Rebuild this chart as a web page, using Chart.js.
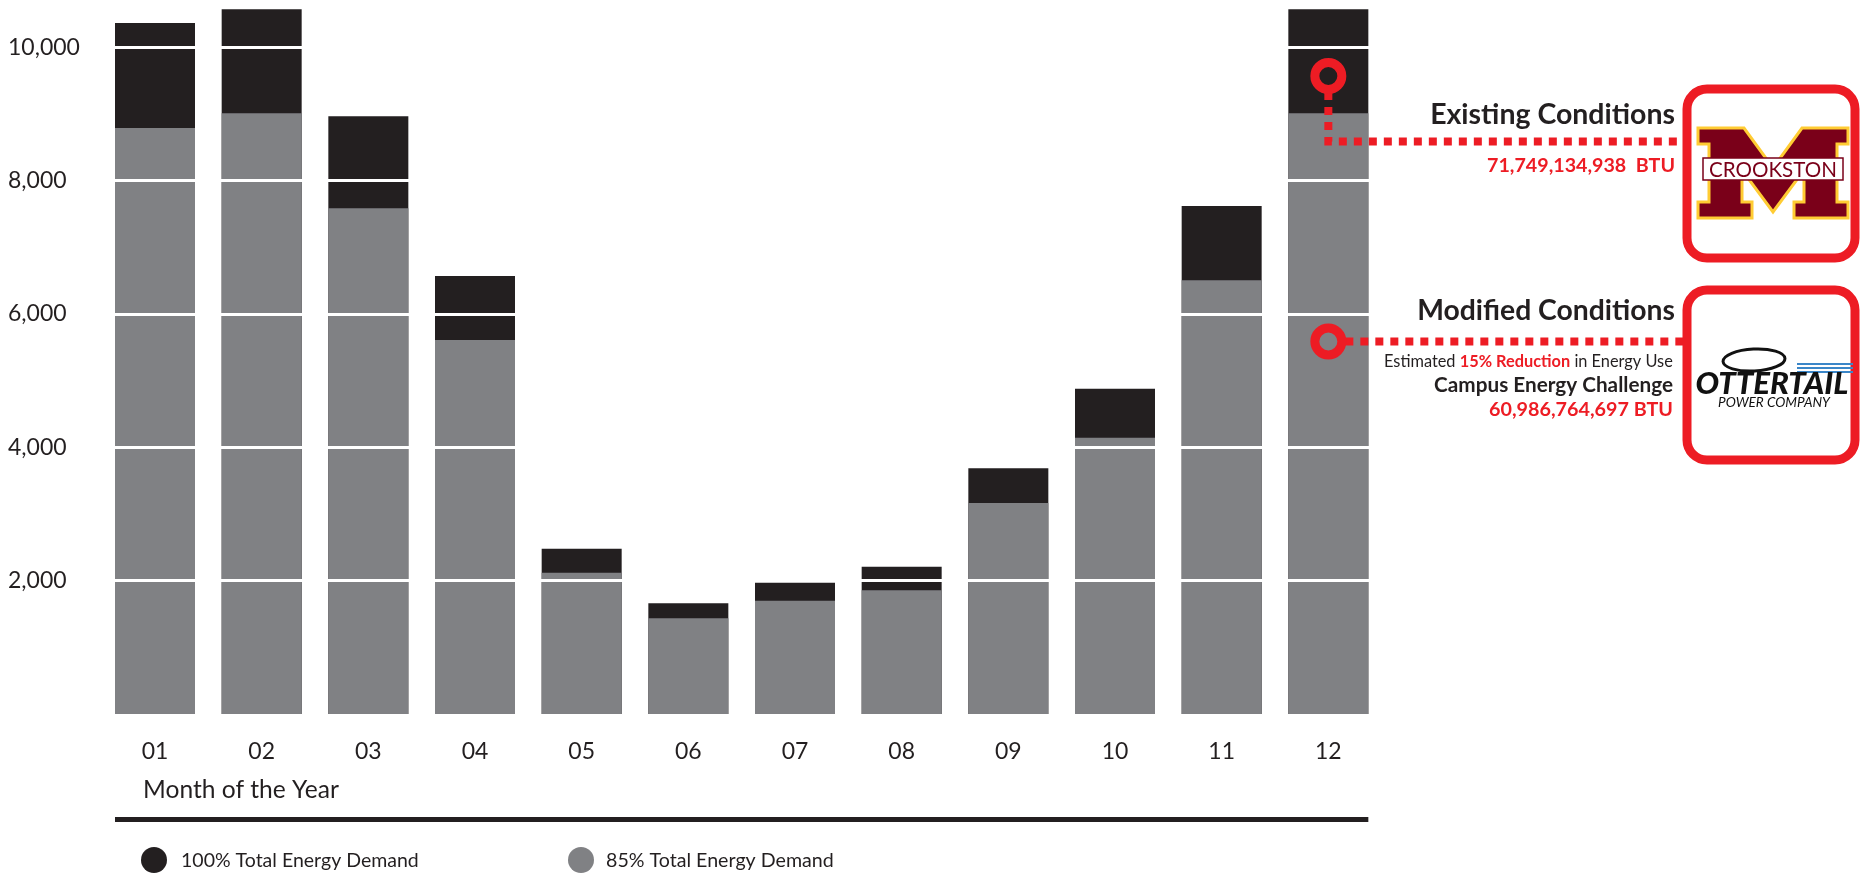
<!DOCTYPE html>
<html>
<head>
<meta charset="utf-8">
<script src="https://cdn.jsdelivr.net/npm/chart.js@4.4.0/dist/chart.umd.min.js"></script>
<style>
  html, body { margin: 0; padding: 0; background: #fff; }
  canvas { display: block; }
</style>
</head>
<body>
<canvas id="energy-chart" width="1864" height="879"></canvas>
<script>
// values
const months = ['01', '02', '03', '04', '05', '06', '07', '08', '09', '10', '11', '12'];
const totalDemand = [10365, 10570, 8965, 6570, 2480, 1660, 1970, 2210, 3685, 4880, 7620, 10570];
const reducedDemand = [8790, 9010, 7585, 5610, 2120, 1435, 1700, 1855, 3165, 4145, 6505, 9010];
const yTicks = [2000, 4000, 6000, 8000, 10000];

const totalLabel = '100% Total Energy Demand';
const reducedLabel = '85% Total Energy Demand';
const existingTotal = '71,749,134,938  BTU';
const modifiedTotal = '60,986,764,697 BTU';

const DARK = '#231f20';
const GRAY = '#808184';
const RED = '#ed1c24';
const FONT = 'Lato, "Open Sans", sans-serif';

// font size that makes text fill a given width
function fitSize(ctx, text, weight, style, width) {
    ctx.font = `${style} ${weight} 100px ${FONT}`;
    return 100 * width / ctx.measureText(text).width;
}

function fitText(ctx, text, x, y, width, align, weight, color, style) {
    style = style || 'normal';
    const size = fitSize(ctx, text, weight, style, width);
    ctx.font = `${style} ${weight} ${size}px ${FONT}`;
    ctx.fillStyle = color;
    ctx.textAlign = align;
    ctx.textBaseline = 'middle';
    ctx.fillText(text, x, y);
}

function dotted(ctx, points) {
    ctx.save();
    ctx.strokeStyle = RED;
    ctx.lineWidth = 8;
    ctx.setLineDash([8, 7]);
    ctx.lineCap = 'butt';
    ctx.beginPath();
    ctx.moveTo(points[0][0], points[0][1]);
    points.slice(1).forEach(p => ctx.lineTo(p[0], p[1]));
    ctx.stroke();
    ctx.restore();
}

function ring(ctx, x, y) {
    ctx.save();
    ctx.strokeStyle = RED;
    ctx.lineWidth = 9;
    ctx.beginPath();
    ctx.arc(x, y, 13.5, 0, Math.PI * 2);
    ctx.stroke();
    ctx.restore();
}

function redBox(ctx, x, y, w, h) {
    ctx.save();
    ctx.strokeStyle = RED;
    ctx.lineWidth = 9;
    ctx.beginPath();
    ctx.roundRect(x, y, w, h, 20);
    ctx.stroke();
    ctx.restore();
}

function crookstonLogo(ctx, x, y) {
    // block M, 150 x 90
    const pts = [[0,0],[46,0],[75,40],[104,0],[150,0],[150,16],[139,16],[139,74],[150,74],[150,90],
        [96,90],[96,74],[106,74],[106,42],[75,84],[44,42],[44,74],[54,74],[54,90],[0,90],[0,74],
        [11,74],[11,16],[0,16]];
    ctx.save();
    ctx.translate(x, y);
    ctx.beginPath();
    pts.forEach((p, i) => i ? ctx.lineTo(p[0], p[1]) : ctx.moveTo(p[0], p[1]));
    ctx.closePath();
    ctx.fillStyle = '#7a0019';
    ctx.fill();
    ctx.strokeStyle = '#ffcc33';
    ctx.lineWidth = 3;
    ctx.stroke();
    ctx.fillStyle = '#fff';
    ctx.fillRect(5, 30, 140, 22);
    ctx.strokeStyle = '#7a0019';
    ctx.lineWidth = 1.5;
    ctx.strokeRect(5, 30, 140, 22);
    ctx.restore();
    fitText(ctx, 'CROOKSTON', x + 75, y + 42, 128, 'center', 400, '#7a0019');
}

function otterTailLogo(ctx, x, y) {
    ctx.save();
    ctx.strokeStyle = '#111';
    ctx.lineWidth = 3;
    ctx.beginPath();
    ctx.ellipse(x - 18, y - 24, 31, 11, -0.05, 0, Math.PI * 2);
    ctx.stroke();
    ctx.strokeStyle = '#3a86c8';
    ctx.lineWidth = 2;
    [-20, -16, -12].forEach(dy => {
        ctx.beginPath();
        ctx.moveTo(x + 25, y + dy);
        ctx.lineTo(x + 81, y + dy);
        ctx.stroke();
    });
    ctx.restore();
    fitText(ctx, 'OTTERTAIL', x, y, 153, 'center', 900, '#111', 'italic');
    fitText(ctx, 'POWER COMPANY', x + 2, y + 19, 112, 'center', 400, '#111', 'italic');
}

const extrasPlugin = {
    id: 'extras',
    afterDraw(chart) {
        const ctx = chart.ctx;
        const bars = chart.getDatasetMeta(0).data;
        const first = bars[0], last = bars[bars.length - 1];

        // axis title and bottom rule
        fitText(ctx, 'Month of the Year', 143, 790, 196, 'left', 400, DARK);
        ctx.save();
        ctx.fillStyle = DARK;
        ctx.fillRect(first.x - first.width / 2, 817, (last.x + last.width / 2) - (first.x - first.width / 2), 5);
        ctx.restore();

        // legend
        const legend = [[totalLabel, DARK, 154, 181, 238], [reducedLabel, GRAY, 581, 606, 228]];
        legend.forEach(([label, color, cx, tx, w]) => {
            ctx.save();
            ctx.fillStyle = color;
            ctx.beginPath();
            ctx.arc(cx, 860, 13, 0, Math.PI * 2);
            ctx.fill();
            ctx.restore();
            fitText(ctx, label, tx, 861, w, 'left', 400, DARK);
        });

        // annotations on the december bar
        const mx = last.x;
        dotted(ctx, [[mx, 92], [mx, 141.5], [1683, 141.5]]);
        ring(ctx, mx, 76);
        dotted(ctx, [[mx + 17, 341.5], [1683, 341.5]]);
        ring(ctx, mx, 341.5);

        redBox(ctx, 1687, 89, 168, 169);
        redBox(ctx, 1687, 290, 168, 170);
        crookstonLogo(ctx, 1698, 128);
        otterTailLogo(ctx, 1772, 384);

        fitText(ctx, 'Existing Conditions', 1675, 115, 245, 'right', 700, DARK);
        fitText(ctx, existingTotal, 1675, 166, 188, 'right', 700, RED);
        fitText(ctx, 'Modified Conditions', 1675, 311, 258, 'right', 700, DARK);

        // mixed line
        const parts = [['Estimated ', 400, DARK], ['15% Reduction', 700, RED], [' in Energy Use', 400, DARK]];
        ctx.save();
        let total = 0;
        parts.forEach(p => { ctx.font = `${p[1]} 100px ${FONT}`; total += ctx.measureText(p[0]).width; });
        const size = 100 * 289 / total;
        let px = 1673 - 289;
        ctx.textAlign = 'left';
        ctx.textBaseline = 'middle';
        parts.forEach(p => {
            ctx.font = `${p[1]} ${size}px ${FONT}`;
            ctx.fillStyle = p[2];
            ctx.fillText(p[0], px, 362);
            px += ctx.measureText(p[0]).width;
        });
        ctx.restore();

        fitText(ctx, 'Campus Energy Challenge', 1673, 385, 239, 'right', 700, DARK);
        fitText(ctx, modifiedTotal, 1673, 410, 184, 'right', 700, RED);
    }
};

new Chart(document.querySelector('#energy-chart').getContext('2d'), {
    type: 'bar',
    data: {
        labels: months,
        datasets: [
            { label: reducedLabel, data: reducedDemand, backgroundColor: GRAY, grouped: false },
            { label: totalLabel, data: totalDemand, backgroundColor: DARK, grouped: false }
        ]
    },
    options: {
        responsive: false,
        devicePixelRatio: 1,
        animation: false,
        barPercentage: 0.75,
        categoryPercentage: 1,
        layout: { padding: { left: 8, right: 482.33, top: 0, bottom: 0 } },
        plugins: { legend: { display: false }, tooltip: { enabled: false } },
        scales: {
            x: {
                grid: { display: false },
                border: { display: false },
                ticks: { color: DARK, font: { family: FONT, size: 23 }, padding: 16 },
                afterFit(s) { s.height = 165; s.paddingLeft = 0; s.paddingRight = 0; }
            },
            y: {
                min: 0,
                max: 10710,
                afterBuildTicks(s) { s.ticks = yTicks.map(v => ({ value: v })); },
                afterFit(s) { s.width = 93.67; s.paddingTop = 0; s.paddingBottom = 0; },
                grid: { color: '#ffffff', lineWidth: 3, drawTicks: false, z: 1 },
                border: { display: false },
                ticks: {
                    crossAlign: 'far',
                    color: DARK,
                    font: { family: FONT, size: 23 },
                    callback: v => v.toLocaleString('en-US')
                }
            }
        }
    },
    plugins: [extrasPlugin]
});
</script>
</body>
</html>
